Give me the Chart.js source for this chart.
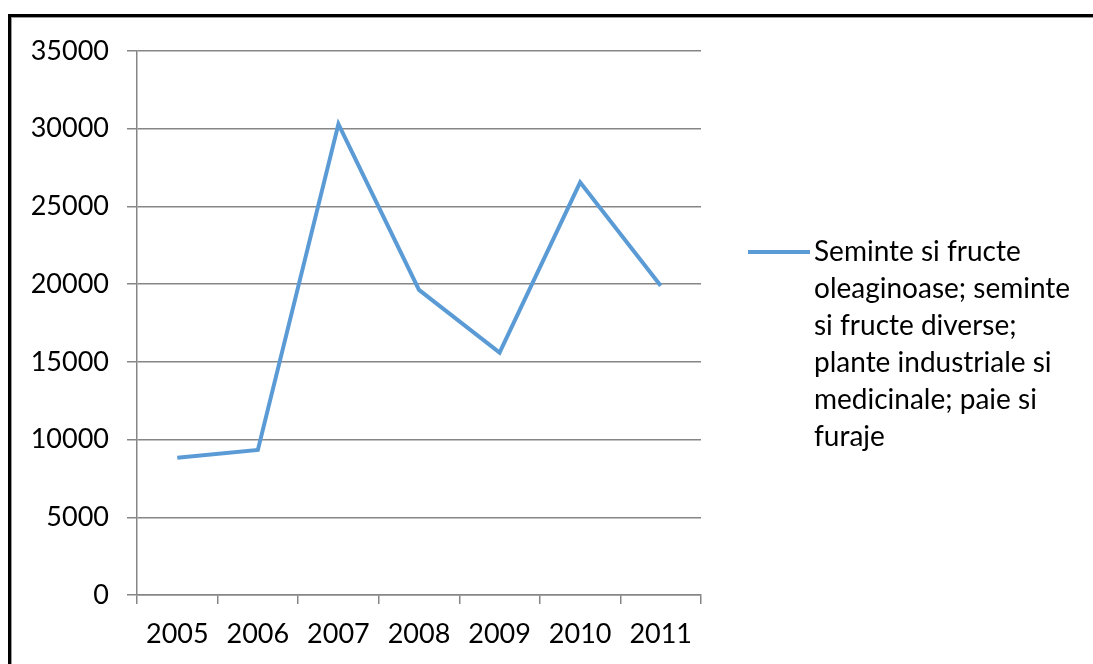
<!DOCTYPE html>
<html>
<head>
<meta charset="utf-8">
<script src="https://cdn.jsdelivr.net/npm/chart.js@4.4.1/dist/chart.umd.min.js"></script>
<style>
  html, body { margin: 0; padding: 0; background: #fff; }
  #wrap { width: 1093px; height: 664px; position: relative; }
</style>
</head>
<body>
<div id="wrap"><canvas id="myChart"></canvas></div>
<script>
// data
const years = ['2005', '2006', '2007', '2008', '2009', '2010', '2011'];
const values = [8830, 9330, 30300, 19630, 15600, 26550, 19900];
const seriesName = 'Seminte si fructe oleaginoase; seminte si fructe diverse; plante industriale si medicinale; paie si furaje';
const legendLines = ['Seminte si fructe', 'oleaginoase; seminte', 'si fructe diverse;', 'plante industriale si', 'medicinale; paie si', 'furaje'];
const yTicks = [0, 5000, 10000, 15000, 20000, 25000, 30000, 35000];

const fontFamily = 'Lato, "Open Sans", sans-serif';
const gridColor = '#868686';
const lineColor = '#5b9bd5';

// frame round the chart
const framePlugin = {
  id: 'frame',
  beforeDraw(chart) {
    const ctx = chart.ctx;
    ctx.save();
    ctx.fillStyle = '#fff';
    ctx.fillRect(0, 0, chart.width, chart.height);
    ctx.strokeStyle = '#000';
    ctx.lineWidth = 3;
    ctx.strokeRect(9.5, 15.5, 1200, 800);
    ctx.strokeStyle = '#999';
    ctx.lineWidth = 1;
    ctx.strokeRect(11.5, 17.5, 1200, 800);
    ctx.restore();
  }
};

// legend on the right, wrapped like the original
const sideLegend = {
  id: 'sideLegend',
  afterDraw(chart) {
    const ctx = chart.ctx;
    const ds = chart.data.datasets[0];
    const x0 = 748, y0 = 252, lh = 37;
    ctx.save();
    ctx.strokeStyle = ds.borderColor;
    ctx.lineWidth = 4;
    ctx.beginPath();
    ctx.moveTo(x0, y0);
    ctx.lineTo(x0 + 62, y0);
    ctx.stroke();
    ctx.fillStyle = '#000';
    ctx.font = '28px ' + fontFamily;
    ctx.textBaseline = 'middle';
    legendLines.forEach((t, i) => ctx.fillText(t, x0 + 66, y0 + i * lh));
    ctx.restore();
  }
};

const config = {
  type: 'line',
  data: {
    labels: years,
    datasets: [{
      label: seriesName,
      data: values,
      borderColor: lineColor,
      backgroundColor: lineColor,
      borderWidth: 4,
      pointRadius: 0,
      tension: 0,
    }]
  },
  options: {
    responsive: false,
    animation: false,
    layout: { padding: { top: 51, right: 392, left: 0, bottom: 0 } },
    plugins: {
      legend: { display: false },
      tooltip: { enabled: false }
    },
    scales: {
      x: {
        offset: true,
        grid: { offset: true, drawOnChartArea: false, drawTicks: true, tickLength: 9, color: gridColor, lineWidth: 1.5 },
        border: { color: gridColor, width: 1.5 },
        ticks: { color: '#000', font: { family: fontFamily, size: 27 }, padding: 14, maxRotation: 0 },
        afterFit(scale) { scale.height = 69; }
      },
      y: {
        min: 0,
        max: 35000,
        afterBuildTicks(scale) { scale.ticks = yTicks.map(v => ({ value: v })); },
        grid: { color: gridColor, lineWidth: 1.5, tickLength: 10 },
        border: { color: gridColor, width: 1.5 },
        ticks: {
          color: '#000',
          font: { family: fontFamily, size: 27 },
          padding: 18,
          callback: v => String(v)
        },
        afterFit(scale) { scale.width = 137; }
      }
    }
  },
  plugins: [framePlugin, sideLegend]
};

const canvas = document.getElementById('myChart');
canvas.width = 1093;
canvas.height = 664;
const myChart = new Chart(canvas, config);
</script>
</body>
</html>
